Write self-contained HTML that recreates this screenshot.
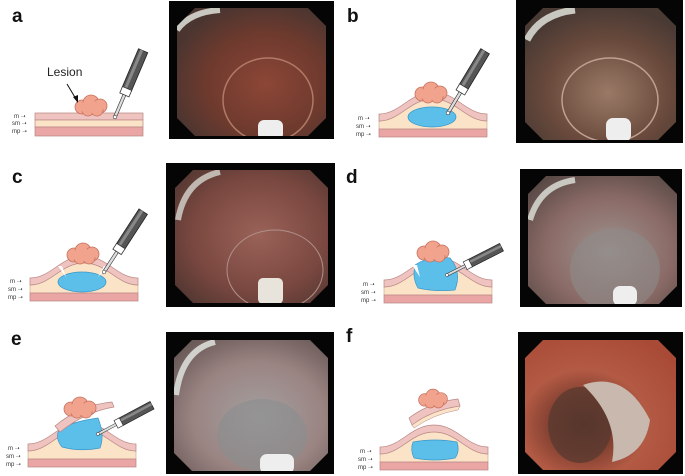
<!DOCTYPE html>
<html><head><meta charset="utf-8"><style>
html,body{margin:0;padding:0;background:#fff;}
svg{display:block;font-family:"Liberation Sans",sans-serif;}
</style></head><body>
<svg width="685" height="476" viewBox="0 0 685 476" xmlns="http://www.w3.org/2000/svg">
<defs>
 <g id="bulge">
  <path d="M0,-8 C21,-8 31,-30 54,-30 C77,-30 87,-8 108,-8 L108,0 L0,0Z" fill="#fbe3c8" stroke="#c9a48a" stroke-width="0.6"/>
  <path d="M0,-15 C21,-15 31,-37 54,-37 C77,-37 87,-15 108,-15 L108,-8 C87,-8 77,-30 54,-30 C31,-30 21,-8 0,-8Z" fill="#efc3c0" stroke="#b98783" stroke-width="0.7"/>
  <rect x="0" y="0" width="108" height="8" fill="#e9a6a4" stroke="#b98783" stroke-width="0.7"/>
 </g>
 <g id="lesion" fill="#f1a38d" stroke="#c7725f" stroke-width="0.8">
  <circle cx="-9" cy="1" r="7"/><circle cx="0" cy="-3" r="8"/><circle cx="9" cy="0" r="7"/><circle cx="-3" cy="4" r="6"/><circle cx="6" cy="4" r="6"/>
  <ellipse cx="0" cy="1" rx="13" ry="6" stroke="none"/>
 </g>
 <g id="inst">
  <rect x="-5" y="-72" width="10" height="42" fill="#555" stroke="#222" stroke-width="0.8"/>
  <rect x="-3" y="-72" width="3" height="42" fill="#888"/>
  <rect x="-5" y="-31" width="10" height="7" fill="#fff" stroke="#333" stroke-width="0.8"/>
  <rect x="-1.5" y="-24" width="3" height="23" fill="#ddd" stroke="#333" stroke-width="0.6"/>
  <circle cx="0" cy="0" r="1.8" fill="#fff" stroke="#333" stroke-width="0.6"/>
 </g>
 <clipPath id="ca"><polygon points="195,8 308,8 326,26 326,118 308,136 195,136 177,118 177,26"/></clipPath>
 <clipPath id="cb"><polygon points="543,8 658,8 676,26 676,122 658,140 543,140 525,122 525,26"/></clipPath>
 <clipPath id="cc"><polygon points="193,170 310,170 328,188 328,285 310,303 193,303 175,285 175,188"/></clipPath>
 <clipPath id="cd"><polygon points="546,176 659,176 677,194 677,286 659,304 546,304 528,286 528,194"/></clipPath>
 <clipPath id="ce"><polygon points="192,340 310,340 328,358 328,453 310,471 192,471 174,453 174,358"/></clipPath>
 <clipPath id="cf"><polygon points="543,340 658,340 676,358 676,452 658,470 543,470 525,452 525,358"/></clipPath>
 <radialGradient id="ga" cx="0.58" cy="0.6" r="0.6"><stop offset="0" stop-color="#8c4636"/><stop offset="0.6" stop-color="#6e3a2e"/><stop offset="1" stop-color="#4a3530"/></radialGradient>
 <radialGradient id="gb" cx="0.55" cy="0.65" r="0.6"><stop offset="0" stop-color="#9a7a66"/><stop offset="0.6" stop-color="#6a4a3c"/><stop offset="1" stop-color="#4a3a34"/></radialGradient>
 <radialGradient id="gc" cx="0.55" cy="0.5" r="0.65"><stop offset="0" stop-color="#9a6258"/><stop offset="0.6" stop-color="#7a4840"/><stop offset="1" stop-color="#4e3530"/></radialGradient>
 <radialGradient id="gd" cx="0.55" cy="0.6" r="0.65"><stop offset="0" stop-color="#a09490"/><stop offset="0.6" stop-color="#8a6a66"/><stop offset="1" stop-color="#5a4a46"/></radialGradient>
 <radialGradient id="ge" cx="0.55" cy="0.6" r="0.65"><stop offset="0" stop-color="#a4a0a0"/><stop offset="0.6" stop-color="#9a8482"/><stop offset="1" stop-color="#6a5a58"/></radialGradient>
 <radialGradient id="gf" cx="0.4" cy="0.65" r="0.7"><stop offset="0" stop-color="#4a2a22"/><stop offset="0.25" stop-color="#7a3c2e"/><stop offset="0.55" stop-color="#b35a44"/><stop offset="1" stop-color="#a84a36"/></radialGradient>
</defs>

<g font-weight="bold" font-size="19" fill="#111">
 <text x="12" y="22">a</text><text x="347" y="22">b</text>
 <text x="12" y="183">c</text><text x="346" y="183">d</text>
 <text x="11" y="345">e</text><text x="346" y="342">f</text>
</g>

<rect x="169" y="1" width="165" height="138" fill="#050505"/>
<g clip-path="url(#ca)">
<rect x="170" y="0" width="165" height="140" fill="url(#ga)"/>
<ellipse cx="268" cy="100" rx="45" ry="42" fill="none" stroke="#b07a66" stroke-width="1.5"/>
<path d="M177,30 Q190,12 220,10" stroke="#c8c8c0" stroke-width="6" fill="none"/>
<rect x="258" y="120" width="25" height="20" rx="6" fill="#eee"/>
</g>

<rect x="516" y="0" width="167" height="143" fill="#050505"/>
<g clip-path="url(#cb)">
<rect x="516" y="0" width="167" height="143" fill="url(#gb)"/>
<ellipse cx="610" cy="100" rx="48" ry="42" fill="none" stroke="#c0a090" stroke-width="1.5"/>
<path d="M527,40 Q540,14 575,10" stroke="#c8c8c0" stroke-width="7" fill="none"/>
<rect x="606" y="118" width="25" height="24" rx="7" fill="#eee"/>
</g>

<rect x="166" y="163" width="169" height="144" fill="#050505"/>
<g clip-path="url(#cc)">
<rect x="166" y="163" width="169" height="144" fill="url(#gc)"/>
<ellipse cx="275" cy="270" rx="48" ry="40" fill="none" stroke="#b0908a" stroke-width="1"/>
<path d="M178,220 Q185,180 220,172" stroke="#c0b8b0" stroke-width="6" fill="none"/>
<rect x="258" y="278" width="25" height="26" rx="5" fill="#e8e4dc"/>
</g>

<rect x="520" y="169" width="162" height="138" fill="#050505"/>
<g clip-path="url(#cd)">
<rect x="520" y="169" width="162" height="138" fill="url(#gd)"/>
<ellipse cx="615" cy="270" rx="45" ry="42" fill="#8e8a88" opacity="0.6"/>
<path d="M530,220 Q540,185 575,180" stroke="#c8c8c0" stroke-width="6" fill="none"/>
<rect x="613" y="286" width="24" height="20" rx="7" fill="#eee"/>
</g>

<rect x="166" y="332" width="168" height="142" fill="#050505"/>
<g clip-path="url(#ce)">
<rect x="166" y="332" width="168" height="142" fill="url(#ge)"/>
<ellipse cx="262" cy="435" rx="45" ry="36" fill="#8a8e90" opacity="0.6"/>
<path d="M176,395 Q182,350 215,342" stroke="#d0d0cc" stroke-width="6" fill="none"/>
<rect x="260" y="454" width="34" height="20" rx="7" fill="#eee"/>
</g>

<rect x="518" y="332" width="165" height="142" fill="#050505"/>
<g clip-path="url(#cf)">
<rect x="518" y="332" width="165" height="142" fill="url(#gf)"/>
<ellipse cx="580" cy="425" rx="32" ry="38" fill="#5a3a30" opacity="0.8"/>
<path d="M583,385 Q625,370 650,420 Q645,455 612,462 Q620,420 583,385Z" fill="#c8b8ae"/>
</g>

<!-- diagram a -->
<rect x="35" y="113" width="108" height="7" fill="#efc3c0" stroke="#b98783" stroke-width="0.7"/>
<rect x="35" y="120" width="108" height="7" fill="#fbe3c8" stroke="#b98783" stroke-width="0.7"/>
<rect x="35" y="127" width="108" height="9" fill="#e9a6a4" stroke="#b98783" stroke-width="0.7"/>
<use href="#lesion" transform="translate(91,106)"/>
<text x="47" y="76" font-size="12" fill="#222">Lesion</text>
<line x1="67" y1="84" x2="76" y2="99" stroke="#111" stroke-width="1"/>
<path d="M73,97 L78,103 L78,95Z" fill="#111"/>
<use href="#inst" transform="translate(115,117) rotate(23)"/>

<!-- diagram b -->
<use href="#bulge" transform="translate(379,129)"/>
<ellipse cx="432" cy="117" rx="24" ry="10" fill="#5cbfea" stroke="#3a97c6" stroke-width="0.7"/>
<use href="#lesion" transform="translate(431,93)"/>
<use href="#inst" transform="translate(448,113) rotate(31)"/>

<!-- diagram c -->
<use href="#bulge" transform="translate(30,293)"/>
<ellipse cx="82" cy="282" rx="24" ry="10" fill="#5cbfea" stroke="#3a97c6" stroke-width="0.7"/>
<use href="#lesion" transform="translate(83,254)"/>
<path d="M58,266 L66,277 L62,266Z M104,266 L98,277 L108,266Z" fill="#fff"/>
<use href="#inst" transform="translate(104,272) rotate(33)"/>

<!-- diagram d -->
<use href="#bulge" transform="translate(384,295)"/>
<path d="M415,265 Q430,255 450,258 Q462,272 455,290 Q435,292 418,288 Q412,278 415,265Z" fill="#5cbfea" stroke="#3a97c6" stroke-width="0.7"/>
<use href="#lesion" transform="translate(433,252)"/>
<path d="M412,265 L420,277 L417,265Z" fill="#fff"/>
<use href="#inst" transform="translate(447,275) rotate(63) scale(0.85)"/>

<!-- diagram e -->
<use href="#bulge" transform="translate(28,459)"/>
<path d="M58,432 Q68,422 98,418 Q105,435 100,448 Q80,452 62,447 Q56,440 58,432Z" fill="#5cbfea" stroke="#3a97c6" stroke-width="0.7"/>
<path d="M55,426 Q80,405 112,402 L114,407 Q85,412 60,432Z" fill="#efc3c0" stroke="#b98783" stroke-width="0.7"/>
<use href="#lesion" transform="translate(80,408)"/>
<use href="#inst" transform="translate(98,434) rotate(62) scale(0.85)"/>

<!-- diagram f -->
<use href="#bulge" transform="translate(380,462)"/>
<path d="M413,442 Q435,438 457,442 Q460,452 455,458 Q435,462 414,458 Q410,450 413,442Z" fill="#5cbfea" stroke="#3a97c6" stroke-width="0.7"/>
<path d="M409,418 Q430,402 458,399 L460,406 Q432,410 412,425Z" fill="#efc3c0" stroke="#b98783" stroke-width="0.7"/>
<path d="M412,425 Q432,410 460,406 L458,410 Q434,414 414,428Z" fill="#fbe3c8" stroke="#b98783" stroke-width="0.5"/>
<use href="#lesion" transform="translate(433,399) scale(0.9)"/>

<g font-size="6" fill="#333">
 <text x="14" y="118">m ➝</text><text x="12" y="125">sm ➝</text><text x="12" y="133">mp ➝</text>
 <text x="358" y="120">m ➝</text><text x="356" y="128">sm ➝</text><text x="356" y="136">mp ➝</text>
 <text x="10" y="283">m ➝</text><text x="8" y="291">sm ➝</text><text x="8" y="299">mp ➝</text>
 <text x="363" y="286">m ➝</text><text x="361" y="294">sm ➝</text><text x="361" y="302">mp ➝</text>
 <text x="8" y="450">m ➝</text><text x="6" y="458">sm ➝</text><text x="6" y="466">mp ➝</text>
 <text x="360" y="453">m ➝</text><text x="358" y="461">sm ➝</text><text x="358" y="469">mp ➝</text>
</g>
</svg>
</body></html>
